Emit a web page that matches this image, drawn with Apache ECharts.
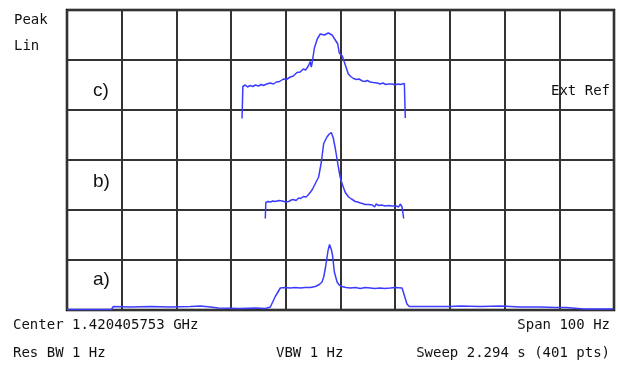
<!DOCTYPE html>
<html>
<head>
<meta charset="utf-8">
<script src="https://cdn.jsdelivr.net/npm/echarts@6/dist/echarts.min.js"></script>
<style>html,body{margin:0;padding:0;background:#fff;}#c{width:618px;height:365px;}</style>
</head>
<body>
<div id="c"></div>
<script>
// x: sweep point index (0..400), y: linear amplitude in divisions (0..6)
var traceA = [[0,0.01],[32.4,0.01],[33.9,0.07],[46.3,0.06],[60.9,0.07],[75.5,0.06],[90.2,0.07],[97.5,0.08],[104.8,0.06],[110.6,0.04],[126.7,0.03],[137.7,0.04],[145,0.03],[148.7,0.06],[152.3,0.27],[156,0.44],[159,0.45],[163.3,0.44],[167,0.45],[170.6,0.44],[174,0.45],[178,0.45],[181.6,0.47],[184.5,0.51],[186.5,0.56],[187.8,0.67],[188.9,0.83],[190,1.03],[190.9,1.19],[192,1.31],[193.3,1.21],[194.2,1.09],[195.5,0.76],[197.5,0.56],[199.1,0.50],[201.1,0.47],[204,0.45],[207.2,0.44],[211,0.45],[214.5,0.43],[218,0.45],[221.8,0.44],[225,0.43],[229.1,0.44],[232,0.43],[236.4,0.44],[240,0.45],[245,0.44],[246.7,0.29],[248.6,0.12],[250.3,0.07],[265.7,0.07],[280.3,0.07],[287.6,0.08],[302.2,0.07],[316.9,0.08],[331.5,0.06],[346.1,0.06],[357.1,0.05],[365.1,0.05],[377.6,0.02],[399.5,0.02]];
var traceB = [[145.0,1.83],[145.4,2.15],[147,2.17],[148.7,2.16],[150.5,2.18],[152.3,2.17],[155,2.19],[157.4,2.18],[160,2.16],[162.1,2.17],[164,2.20],[165.5,2.21],[167.5,2.19],[169.4,2.24],[171,2.23],[172.8,2.27],[174.8,2.26],[176.7,2.31],[179.4,2.41],[181.6,2.53],[184,2.66],[186,2.96],[187.7,3.33],[190.1,3.46],[191.8,3.52],[193.3,3.55],[194.7,3.44],[196.2,3.23],[198.6,2.83],[199.9,2.64],[201.5,2.50],[203.5,2.35],[205.9,2.26],[208,2.22],[210.8,2.17],[212.5,2.16],[214.5,2.14],[216,2.13],[218.1,2.11],[220.5,2.11],[223.3,2.10],[225,2.06],[226,2.12],[227.9,2.09],[230,2.10],[232.8,2.08],[235,2.09],[237.7,2.08],[239,2.07],[240.8,2.08],[242.5,2.06],[243.7,2.12],[245,2.06],[246.2,1.83]];
var traceC = [[128.0,3.83],[128.6,4.47],[130.4,4.50],[132,4.46],[134,4.49],[136,4.47],[137.7,4.50],[140,4.48],[142,4.51],[143.6,4.49],[146,4.52],[148.7,4.54],[151,4.52],[153.1,4.56],[155.5,4.57],[158.2,4.62],[160.5,4.61],[163.3,4.66],[165.5,4.68],[168.2,4.75],[170.5,4.76],[172.8,4.82],[174.5,4.80],[176.5,4.88],[177.9,4.97],[178.6,4.86],[179.2,4.93],[180.9,5.24],[183,5.42],[185.2,5.52],[186.5,5.49],[188.2,5.50],[189.5,5.53],[191.1,5.54],[192.5,5.51],[193.8,5.50],[196.2,5.40],[198,5.32],[199.1,5.14],[201.3,5.08],[203.5,4.90],[205.7,4.72],[207.9,4.66],[209.5,4.63],[211.6,4.61],[213.5,4.62],[216,4.58],[218,4.57],[219.5,4.59],[221.8,4.56],[224,4.55],[226.9,4.54],[229,4.52],[231,4.54],[233,4.51],[235,4.52],[237.9,4.52],[240,4.50],[242,4.52],[243.7,4.51],[246.7,4.53],[247.4,3.84]];
var traceLabels = ['a)', 'b)', 'c)'];
var headerLabels = ['Peak', 'Lin'];
var footerLeft = ['Center 1.420405753 GHz', 'Res BW 1 Hz'];
var footerMid = 'VBW 1 Hz';
var footerRight = ['Span 100 Hz', 'Sweep 2.294 s (401 pts)'];
var refLabel = 'Ext Ref';

var chart = echarts.init(document.getElementById('c'), null, {renderer: 'canvas'});
var mono = '"DejaVu Sans Mono", "Liberation Mono", monospace';
var sans = '"Liberation Sans", Arial, sans-serif';
function txt(t, x, y, align, font, size) {
  return {type: 'text', left: undefined, x: x, y: y, z: 10,
    style: {text: t, x: 0, y: 0, textAlign: align, textVerticalAlign: 'middle', font: size + 'px ' + font, fill: '#000'}};
}
function mk(t, x, y, align, font, size) {
  return {type: 'text', x: x, y: y, z: 10,
    style: {text: t, textAlign: align, textVerticalAlign: 'middle', fontFamily: font, fontSize: size, fill: '#111'}};
}
var lineStyle = {color: '#3c3cff', width: 1.5};
chart.setOption({
  animation: false,
  backgroundColor: '#fff',
  grid: {left: 67, top: 10, width: 547, height: 300, show: true, borderColor: '#000', borderWidth: 2.5, backgroundColor: 'transparent'},
  xAxis: {type: 'value', min: 0, max: 400, interval: 40,
    axisLine: {show: false}, axisTick: {show: false}, axisLabel: {show: false},
    splitLine: {show: true, lineStyle: {color: '#333', width: 2}}},
  yAxis: {type: 'value', min: 0, max: 6, interval: 1,
    axisLine: {show: false}, axisTick: {show: false}, axisLabel: {show: false},
    splitLine: {show: true, lineStyle: {color: '#333', width: 2}}},
  series: [
    {type: 'line', data: traceA, showSymbol: false, lineStyle: lineStyle, z: 5},
    {type: 'line', data: traceB, showSymbol: false, lineStyle: lineStyle, z: 5},
    {type: 'line', data: traceC, showSymbol: false, lineStyle: lineStyle, z: 5}
  ],
  graphic: [
    mk(headerLabels[0], 14, 20, 'left', mono, 14),
    mk(headerLabels[1], 14, 46, 'left', mono, 14),
    mk(traceLabels[2], 93, 91, 'left', sans, 19),
    mk(traceLabels[1], 93, 182, 'left', sans, 19),
    mk(traceLabels[0], 93, 280, 'left', sans, 19),
    mk(refLabel, 610, 91, 'right', mono, 14),
    mk(footerLeft[0], 13, 325, 'left', mono, 14),
    mk(footerLeft[1], 13, 353, 'left', mono, 14),
    mk(footerMid, 276, 353, 'left', mono, 14),
    mk(footerRight[0], 610, 325, 'right', mono, 14),
    mk(footerRight[1], 610, 353, 'right', mono, 14)
  ]
});
</script>
</body>
</html>
